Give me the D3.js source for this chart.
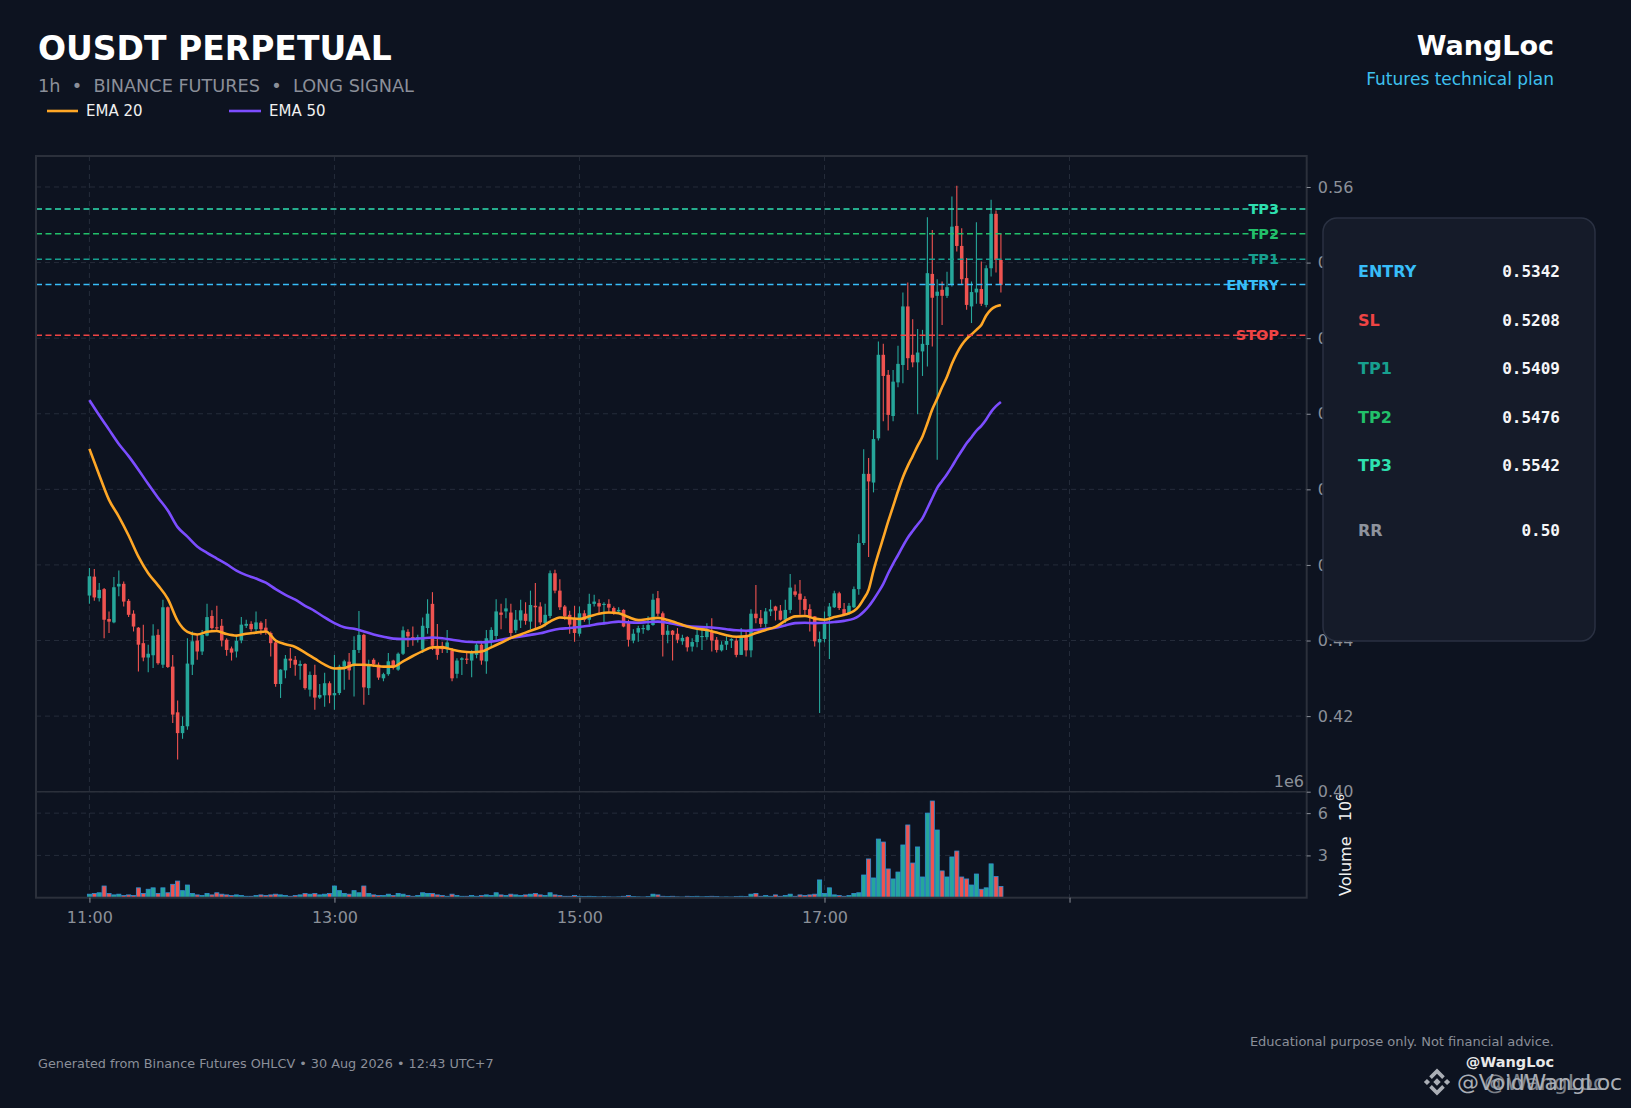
<!DOCTYPE html>
<html>
<head>
<meta charset="utf-8">
<script src="https://cdn.jsdelivr.net/npm/d3@7"></script>
<style>
  body { margin: 0; background: #0d1320; }
  svg { display: block; }
  text { font-family: "DejaVu Sans", sans-serif; }
</style>
</head>
<body>
<svg id="chart"></svg>
<script>
// candles (one every index step)
const opens = [
  .4519,.4569,.4512,.4536,.4457,.4448,.4543,.4550,.4505,.4471,
  .4434,.4393,.4355,.4361,.4415,.4336,.4488,.4331,.4210,.4155,
  .4173,.4336,.4400,.4371,.4413,.4465,.4435,.4439,.4402,.4379,
  .4371,.4400,.4439,.4444,.4430,.4447,.4434,.4420,.4395,.4285,
  .4321,.4352,.4349,.4333,.4338,.4270,.4309,.4249,.4255,.4287,
  .4255,.4261,.4331,.4344,.4333,.4375,.4415,.4274,.4349,.4336,
  .4300,.4311,.4347,.4323,.4365,.4423,.4409,.4402,.4376,.4433,
  .4497,.4386,.4386,.4377,.4374,.4312,.4349,.4352,.4347,.4362,
  .4389,.4345,.4400,.4412,.4474,.4477,.4474,.4427,.4453,.4471,
  .4450,.4492,.4490,.4446,.4465,.4578,.4532,.4490,.4468,.4459,
  .4418,.4472,.4455,.4497,.4499,.4494,.4497,.4486,.4477,.4481,
  .4446,.4400,.4421,.4430,.4428,.4441,.4512,.4472,.4415,.4426,
  .4418,.4398,.4409,.4384,.4396,.4409,.4409,.4424,.4402,.4374,
  .4389,.4400,.4400,.4362,.4411,.4374,.4471,.4459,.4444,.4477,
  .4490,.4479,.4455,.4481,.4530,.4524,.4510,.4483,.4464,.4395,
  .4404,.4464,.4488,.4525,.4483,.4472,.4488,.4536,.4658,.4841,
  .4818,.4935,.5156,.5103,.4994,.5083,.5129,.5284,.5156,.5136,
  .5165,.5182,.5370,.5312,.5328,.5312,.5341,.5497,.5444,.5359,
  .5284,.5321,.5330,.5288,.5385,.5529,.5407
];
const highs = [
  .4592,.4589,.4552,.4539,.4477,.4568,.4585,.4556,.4510,.4480,
  .4436,.4442,.4389,.4443,.4430,.4508,.4490,.4362,.4241,.4199,
  .4406,.4424,.4415,.4428,.4497,.4480,.4492,.4457,.4406,.4384,
  .4413,.4462,.4455,.4451,.4477,.4451,.4457,.4424,.4402,.4324,
  .4362,.4380,.4359,.4347,.4340,.4318,.4336,.4285,.4315,.4292,
  .4362,.4336,.4349,.4367,.4411,.4478,.4418,.4349,.4353,.4342,
  .4315,.4367,.4349,.4368,.4437,.4430,.4437,.4415,.4461,.4509,
  .4528,.4444,.4397,.4428,.4380,.4353,.4356,.4368,.4374,.4393,
  .4393,.4428,.4435,.4509,.4497,.4512,.4497,.4481,.4508,.4501,
  .4532,.4552,.4501,.4497,.4585,.4587,.4562,.4494,.4479,.4492,
  .4490,.4480,.4524,.4521,.4509,.4501,.4509,.4490,.4488,.4483,
  .4455,.4430,.4439,.4442,.4464,.4524,.4531,.4477,.4441,.4428,
  .4433,.4415,.4411,.4406,.4437,.4435,.4446,.4459,.4409,.4398,
  .4411,.4406,.4406,.4433,.4428,.4483,.4547,.4481,.4486,.4508,
  .4492,.4494,.4508,.4576,.4548,.4560,.4517,.4496,.4465,.4424,
  .4477,.4499,.4532,.4529,.4499,.4499,.4543,.4681,.4906,.4883,
  .4957,.5191,.5185,.5116,.5116,.5180,.5321,.5347,.5250,.5224,
  .5222,.5520,.5486,.5356,.5350,.5376,.5575,.5603,.5491,.5412,
  .5350,.5507,.5403,.5393,.5566,.5538,.5476
];
const lows = [
  .4497,.4505,.4503,.4406,.4420,.4446,.4517,.4490,.4462,.4424,
  .4318,.4345,.4316,.4327,.4336,.4327,.4327,.4182,.4085,.4140,
  .4164,.4309,.4349,.4362,.4411,.4429,.4428,.4384,.4360,.4347,
  .4355,.4393,.4433,.4424,.4424,.4415,.4415,.4358,.4278,.4248,
  .4300,.4327,.4307,.4296,.4270,.4252,.4217,.4245,.4225,.4234,
  .4217,.4256,.4270,.4296,.4252,.4367,.4230,.4256,.4330,.4296,
  .4292,.4307,.4323,.4320,.4362,.4383,.4386,.4395,.4367,.4418,
  .4375,.4349,.4367,.4367,.4292,.4300,.4309,.4338,.4303,.4353,
  .4336,.4312,.4380,.4402,.4430,.4459,.4411,.4420,.4433,.4442,
  .4430,.4433,.4442,.4437,.4459,.4525,.4481,.4455,.4418,.4397,
  .4411,.4450,.4442,.4490,.4471,.4442,.4472,.4468,.4471,.4435,
  .4384,.4393,.4397,.4418,.4426,.4439,.4465,.4358,.4393,.4347,
  .4393,.4389,.4371,.4371,.4382,.4375,.4402,.4371,.4368,.4371,
  .4375,.4380,.4356,.4362,.4358,.4356,.4446,.4435,.4435,.4465,
  .4453,.4453,.4446,.4472,.4516,.4468,.4468,.4424,.4384,.4208,
  .4395,.4351,.4486,.4481,.4464,.4468,.4486,.4521,.4653,.4621,
  .4792,.4929,.4980,.4956,.4980,.5070,.5081,.5116,.5123,.4999,
  .5100,.5125,.5178,.4878,.5235,.5306,.5337,.5429,.5341,.5275,
  .5240,.5291,.5285,.5282,.5363,.5374,.5321
];
const closes = [
  .4570,.4514,.4534,.4455,.4450,.4541,.4550,.4503,.4468,.4437,
  .4389,.4355,.4365,.4413,.4340,.4488,.4330,.4204,.4155,.4174,
  .4339,.4398,.4371,.4415,.4462,.4433,.4432,.4400,.4375,.4368,
  .4399,.4442,.4444,.4430,.4448,.4430,.4426,.4393,.4285,.4323,
  .4352,.4347,.4336,.4338,.4274,.4309,.4249,.4256,.4287,.4255,
  .4261,.4331,.4345,.4321,.4375,.4415,.4276,.4336,.4338,.4302,
  .4311,.4345,.4330,.4365,.4427,.4411,.4406,.4409,.4439,.4471,
  .4386,.4362,.4377,.4395,.4300,.4347,.4353,.4349,.4367,.4389,
  .4347,.4406,.4428,.4477,.4468,.4485,.4420,.4455,.4480,.4452,
  .4494,.4488,.4448,.4468,.4578,.4532,.4488,.4465,.4442,.4420,
  .4472,.4455,.4497,.4503,.4490,.4497,.4487,.4474,.4481,.4437,
  .4402,.4418,.4433,.4433,.4441,.4508,.4471,.4415,.4426,.4415,
  .4402,.4407,.4382,.4396,.4415,.4412,.4426,.4400,.4375,.4389,
  .4399,.4404,.4362,.4411,.4374,.4471,.4459,.4444,.4477,.4483,
  .4479,.4455,.4481,.4540,.4521,.4508,.4481,.4464,.4398,.4404,
  .4449,.4490,.4525,.4486,.4468,.4492,.4536,.4658,.4841,.4821,
  .4933,.5156,.5100,.4997,.5085,.5132,.5284,.5147,.5136,.5162,
  .5185,.5372,.5307,.5323,.5312,.5335,.5495,.5444,.5356,.5288,
  .5322,.5331,.5291,.5385,.5529,.5407,.5341
];
// volume in millions
const volumes = [
  0.25,0.30,0.35,0.83,0.30,0.20,0.25,0.15,0.20,0.15,
  0.70,0.30,0.60,0.70,0.30,0.70,0.35,0.95,1.18,0.50,
  0.90,0.30,0.20,0.15,0.30,0.20,0.35,0.25,0.20,0.15,
  0.20,0.15,0.10,0.10,0.15,0.20,0.15,0.20,0.25,0.20,
  0.15,0.10,0.15,0.20,0.30,0.25,0.30,0.20,0.25,0.30,
  0.83,0.50,0.30,0.25,0.50,0.35,0.83,0.30,0.20,0.15,
  0.15,0.25,0.15,0.30,0.25,0.15,0.10,0.15,0.35,0.30,
  0.30,0.20,0.15,0.10,0.25,0.15,0.10,0.10,0.15,0.10,
  0.15,0.20,0.15,0.35,0.20,0.15,0.25,0.20,0.15,0.20,
  0.25,0.30,0.20,0.15,0.35,0.20,0.15,0.10,0.10,0.15,
  0.10,0.08,0.10,0.08,0.06,0.08,0.06,0.05,0.06,0.10,
  0.15,0.08,0.06,0.05,0.08,0.25,0.20,0.10,0.08,0.10,
  0.06,0.05,0.10,0.08,0.10,0.06,0.08,0.10,0.08,0.05,
  0.06,0.05,0.08,0.10,0.08,0.25,0.30,0.10,0.15,0.10,
  0.20,0.10,0.15,0.25,0.10,0.20,0.15,0.20,0.25,1.26,
  0.30,0.70,0.20,0.15,0.10,0.15,0.30,0.35,1.61,2.75,
  1.40,4.16,3.95,2.04,1.33,1.82,3.74,5.16,2.46,3.60,
  1.47,6.00,6.86,4.80,1.90,1.47,2.89,3.31,1.47,1.33,
  0.90,1.68,0.60,0.70,2.40,1.50,0.80
];

// EMA values read at these candle indexes
const emaIndex = [
  0,2,4,6,8,10,12,14,16,18,20,22,24,26,28,30,32,34,36,38,40,42,44,46,48,50,
  52,54,56,58,60,62,64,66,68,70,72,74,76,78,80,82,84,86,88,90,92,94,96,98,100,
  102,104,106,108,110,112,114,116,118,120,122,124,126,128,130,132,134,136,138,140,
  142,144,146,148,150,152,154,156,157,158,159,160,161,162,163,164,165,166,167,168,
  169,170,171,172,173,174,175,176,177,178,179,180,181,182,183,184,185,186
];
const ema20 = [
  .4907,.4838,.4772,.4728,.4678,.4622,.4578,.4546,.4510,.4452,.4423,.4416,.4423,.4425,.4417,.4413,.4418,.4421,.4424,.4400,.4390,.4383,.4368,.4352,.4336,.4326,
  .4327,.4336,.4336,.4334,.4331,.4331,.4345,.4359,.4372,.4382,.4382,.4376,.4371,.4369,.4371,.4382,.4394,.4407,.4416,.4426,.4435,.4450,.4461,.4459,.4457,
  .4464,.4471,.4474,.4472,.4462,.4454,.4457,.4460,.4454,.4446,.4437,.4431,.4428,.4421,.4414,.4410,.4411,.4420,.4428,.4436,
  .4452,.4464,.4465,.4458,.4455,.4462,.4468,.4478,.4490,.4510,.4534,.4585,.4630,.4672,.4715,.4755,.4795,.4832,.4862,.4888,
  .4915,.4940,.4975,.5012,.5040,.5070,.5098,.5132,.5160,.5182,.5198,.5210,.5222,.5235,.5260,.5276,.5284,.5288
];
const ema50 = [
  .5036,.4996,.4958,.4920,.4888,.4852,.4814,.4778,.4744,.4700,.4675,.4649,.4632,.4617,.4602,.4585,.4573,.4564,.4553,.4536,.4521,.4508,.4492,.4478,.4461,.4446,
  .4435,.4431,.4424,.4416,.4410,.4405,.4404,.4404,.4406,.4408,.4406,.4402,.4398,.4396,.4395,.4397,.4402,.4407,.4411,.4415,.4419,.4426,.4431,.4433,.4436,
  .4439,.4444,.4447,.4450,.4448,.4447,.4449,.4450,.4447,.4442,.4438,.4436,.4435,.4433,.4430,.4427,.4426,.4428,.4431,.4434,
  .4440,.4446,.4447,.4446,.4447,.4449,.4452,.4458,.4465,.4476,.4490,.4508,.4528,.4550,.4578,.4603,.4626,.4650,.4672,.4690,
  .4707,.4724,.4750,.4777,.4804,.4822,.4840,.4860,.4882,.4902,.4922,.4938,.4955,.4968,.4985,.5005,.5020,.5031
];

const xTickIndex = [0, 50, 100, 150, 200];
const xTickLabels = ["11:00", "13:00", "15:00", "17:00", ""];
const priceTicks = [0.40, 0.42, 0.44, 0.46, 0.48, 0.50, 0.52, 0.54, 0.56];
const volumeTicks = [3, 6];

const levelNames = ["TP3", "TP2", "TP1", "ENTRY", "STOP"];
const levelPrices = [0.5542, 0.5476, 0.5409, 0.5342, 0.5208];
const levelColors = ["#2ee0b0", "#22c06a", "#17a08f", "#38bdf8", "#ef4444"];

const panelLabels = ["ENTRY", "SL", "TP1", "TP2", "TP3", "RR"];
const panelValues = ["0.5342", "0.5208", "0.5409", "0.5476", "0.5542", "0.50"];
const panelColors = ["#38bdf8", "#ef4444", "#17a08f", "#22c06a", "#2ee0b0", "#8e939d"];

// ---- layout
const W = 1631, H = 1108;
const plotL = 36, plotR = 1306.7, plotT = 156, plotSplit = 791.7, plotB = 897.7;
const bg = "#0d1320", gridCol = "#252c3a", frameCol = "#2b303b", tickCol = "#8b9099";
const upCol = "#26a69a", downCol = "#ef5350";

const svg = d3.select("#chart").attr("width", W).attr("height", H);
svg.append("rect").attr("width", W).attr("height", H).attr("fill", bg);

const x = d3.scaleLinear().domain([-10.9, 248.4]).range([plotL, plotR]);
const y = d3.scaleLinear().domain([0.40, 0.5682]).range([plotSplit, plotT]);
const yv = d3.scaleLinear().domain([0, 7.52]).range([plotB, plotSplit]);
const step = x(1) - x(0);

// grid
const g = svg.append("g");
g.selectAll(".hg").data(priceTicks).enter().append("line")
  .attr("x1", plotL).attr("x2", plotR)
  .attr("y1", d => y(d)).attr("y2", d => y(d))
  .attr("stroke", gridCol).attr("stroke-dasharray", "5,4");
g.selectAll(".vg").data(volumeTicks).enter().append("line")
  .attr("x1", plotL).attr("x2", plotR)
  .attr("y1", d => yv(d)).attr("y2", d => yv(d))
  .attr("stroke", gridCol).attr("stroke-dasharray", "5,4");
g.selectAll(".xg").data(xTickIndex).enter().append("line")
  .attr("x1", d => x(d)).attr("x2", d => x(d))
  .attr("y1", plotT).attr("y2", plotB)
  .attr("stroke", gridCol).attr("stroke-dasharray", "5,4");

// candles
const idx = d3.range(closes.length);
const candles = svg.append("g");
candles.selectAll(".wick").data(idx).enter().append("line")
  .attr("x1", i => x(i)).attr("x2", i => x(i))
  .attr("y1", i => y(highs[i])).attr("y2", i => y(lows[i]))
  .attr("stroke", i => closes[i] >= opens[i] ? upCol : downCol)
  .attr("stroke-width", 1.1);
candles.selectAll(".body").data(idx).enter().append("rect")
  .attr("x", i => x(i) - step * 0.36)
  .attr("width", step * 0.72)
  .attr("y", i => y(Math.max(opens[i], closes[i])))
  .attr("height", i => Math.max(1, Math.abs(y(opens[i]) - y(closes[i]))))
  .attr("fill", i => closes[i] >= opens[i] ? upCol : downCol);

// volume
svg.append("g").selectAll("rect").data(idx).enter().append("rect")
  .attr("x", i => x(i) - step * 0.42)
  .attr("width", step * 0.84)
  .attr("y", i => yv(volumes[i]))
  .attr("height", i => yv(0) - yv(volumes[i]))
  .attr("fill", i => closes[i] >= opens[i] ? upCol : downCol)
  .attr("stroke", "#2f8fd2").attr("stroke-width", 0.8);

// EMA lines
const line = d3.line().x(d => x(d[0])).y(d => y(d[1])).curve(d3.curveMonotoneX);
svg.append("path").datum(emaIndex.map((d, i) => [d, ema50[i]]))
  .attr("d", line).attr("fill", "none").attr("stroke", "#7c4dff").attr("stroke-width", 2.6);
svg.append("path").datum(emaIndex.map((d, i) => [d, ema20[i]]))
  .attr("d", line).attr("fill", "none").attr("stroke", "#ffa726").attr("stroke-width", 2.6);

// trade levels
const lv = svg.append("g");
levelPrices.forEach((p, i) => {
  lv.append("line").attr("x1", plotL).attr("x2", plotR)
    .attr("y1", y(p)).attr("y2", y(p))
    .attr("stroke", levelColors[i]).attr("stroke-width", 1.5)
    .attr("stroke-dasharray", "6,3.5");
  lv.append("text").attr("x", 1279).attr("y", y(p) + 5)
    .attr("text-anchor", "end").attr("fill", levelColors[i])
    .style("font-size", "14.5px").style("font-weight", "bold")
    .text(levelNames[i]);
});

// frame
svg.append("rect").attr("x", plotL).attr("y", plotT)
  .attr("width", plotR - plotL).attr("height", plotB - plotT)
  .attr("fill", "none").attr("stroke", frameCol).attr("stroke-width", 2);
svg.append("line").attr("x1", plotL).attr("x2", plotR)
  .attr("y1", plotSplit).attr("y2", plotSplit)
  .attr("stroke", frameCol).attr("stroke-width", 1.6);

// axes
function styleAxis(sel) {
  sel.select(".domain").remove();
  sel.selectAll(".tick line").attr("stroke", tickCol);
  sel.selectAll(".tick text").attr("fill", tickCol)
    .style("font-size", "16px").style("font-family", "DejaVu Sans");
}
svg.append("g").attr("transform", `translate(${plotR},0)`)
  .call(d3.axisRight(y).tickValues(priceTicks).tickFormat(d3.format(".2f")).tickSize(4).tickPadding(7))
  .call(styleAxis);
svg.append("g").attr("transform", `translate(${plotR},0)`)
  .call(d3.axisRight(yv).tickValues(volumeTicks).tickFormat(d3.format("d")).tickSize(4).tickPadding(7))
  .call(styleAxis);
svg.append("g").attr("transform", `translate(0,${plotB})`)
  .call(d3.axisBottom(x).tickValues(xTickIndex).tickFormat((d, i) => xTickLabels[i]).tickSize(5).tickPadding(9))
  .call(styleAxis);

svg.append("text").attr("x", 1304).attr("y", 787).attr("text-anchor", "end")
  .attr("fill", tickCol).style("font-size", "16px").text("1e6");
const vl = svg.append("text").attr("transform", "translate(1351,896) rotate(-90)")
  .attr("fill", "#f0f0f0").style("font-size", "16px").style("white-space", "pre");
vl.append("tspan").text("Volume   10");
vl.append("tspan").attr("dy", -7).style("font-size", "11px").text("6");

// info panel
const pn = svg.append("g");
pn.append("rect").attr("x", 1323).attr("y", 218).attr("width", 272).attr("height", 423)
  .attr("rx", 14).attr("fill", "#151b29").attr("stroke", "#2a3142").attr("stroke-width", 1.5);
const rowY = [277, 325.5, 374, 422.5, 471, 535.5];
panelLabels.forEach((lab, i) => {
  pn.append("text").attr("x", 1358).attr("y", rowY[i]).attr("fill", panelColors[i])
    .style("font-size", "16px").style("font-weight", "bold").text(lab);
  pn.append("text").attr("x", 1560).attr("y", rowY[i]).attr("text-anchor", "end")
    .attr("fill", "#f5f6f8").style("font-size", "16px").style("font-weight", "bold")
    .style("font-family", "DejaVu Sans Mono").text(panelValues[i]);
});

// header
svg.append("text").attr("x", 38).attr("y", 60).attr("fill", "#ffffff")
  .style("font-size", "33px").style("font-weight", "bold").text("OUSDT PERPETUAL");
svg.append("text").attr("x", 38).attr("y", 92).attr("fill", "#8b8f99")
  .style("font-size", "17.7px").style("white-space", "pre")
  .text("1h  \u2022  BINANCE FUTURES  \u2022  LONG SIGNAL");
svg.append("line").attr("x1", 47).attr("x2", 78).attr("y1", 111).attr("y2", 111)
  .attr("stroke", "#ffa726").attr("stroke-width", 2.6);
svg.append("text").attr("x", 86).attr("y", 116).attr("fill", "#f0f0f0")
  .style("font-size", "15px").text("EMA 20");
svg.append("line").attr("x1", 229).attr("x2", 261).attr("y1", 111).attr("y2", 111)
  .attr("stroke", "#7c4dff").attr("stroke-width", 2.6);
svg.append("text").attr("x", 269).attr("y", 116).attr("fill", "#f0f0f0")
  .style("font-size", "15px").text("EMA 50");

svg.append("text").attr("x", 1554).attr("y", 55).attr("text-anchor", "end").attr("fill", "#ffffff")
  .style("font-size", "27px").style("font-weight", "bold").text("WangLoc");
svg.append("text").attr("x", 1554).attr("y", 85).attr("text-anchor", "end").attr("fill", "#3ec0ee")
  .style("font-size", "17px").text("Futures technical plan");

// footer
svg.append("text").attr("x", 38).attr("y", 1068).attr("fill", "#8b8f99")
  .style("font-size", "12.8px")
  .text("Generated from Binance Futures OHLCV \u2022 30 Aug 2026 \u2022 12:43 UTC+7");
svg.append("text").attr("x", 1554).attr("y", 1046).attr("text-anchor", "end").attr("fill", "#8b8f99")
  .style("font-size", "13px").text("Educational purpose only. Not financial advice.");
svg.append("text").attr("x", 1554).attr("y", 1067).attr("text-anchor", "end").attr("fill", "#e8e8e8")
  .style("font-size", "14.5px").style("font-weight", "bold").text("@WangLoc");

// watermark
const wm = svg.append("g").attr("fill", "#c6cad0").attr("opacity", 0.85);
const logo = wm.append("g").attr("transform", "translate(1437,1082) rotate(45)");
logo.append("rect").attr("x", -2.6).attr("y", -2.6).attr("width", 5.2).attr("height", 5.2);
logo.append("rect").attr("x", -9.3).attr("y", 4.9).attr("width", 4.4).attr("height", 4.4);
logo.append("rect").attr("x", 4.9).attr("y", -9.3).attr("width", 4.4).attr("height", 4.4);
logo.append("path").attr("d", "M-9.5,-9.5 L1.5,-9.5 L1.5,-5.8 L-5.8,-5.8 L-5.8,1.5 L-9.5,1.5 Z");
logo.append("path").attr("d", "M9.5,9.5 L-1.5,9.5 L-1.5,5.8 L5.8,5.8 L5.8,-1.5 L9.5,-1.5 Z");
wm.append("text").attr("x", 1457).attr("y", 1090)
  .style("font-size", "22px").attr("textLength", 165).text("@VoidWangLoc");
wm.append("text").attr("x", 1484).attr("y", 1090).attr("opacity", 0.7)
  .style("font-size", "22px").text("@WangLoc");
</script>
</body>
</html>
